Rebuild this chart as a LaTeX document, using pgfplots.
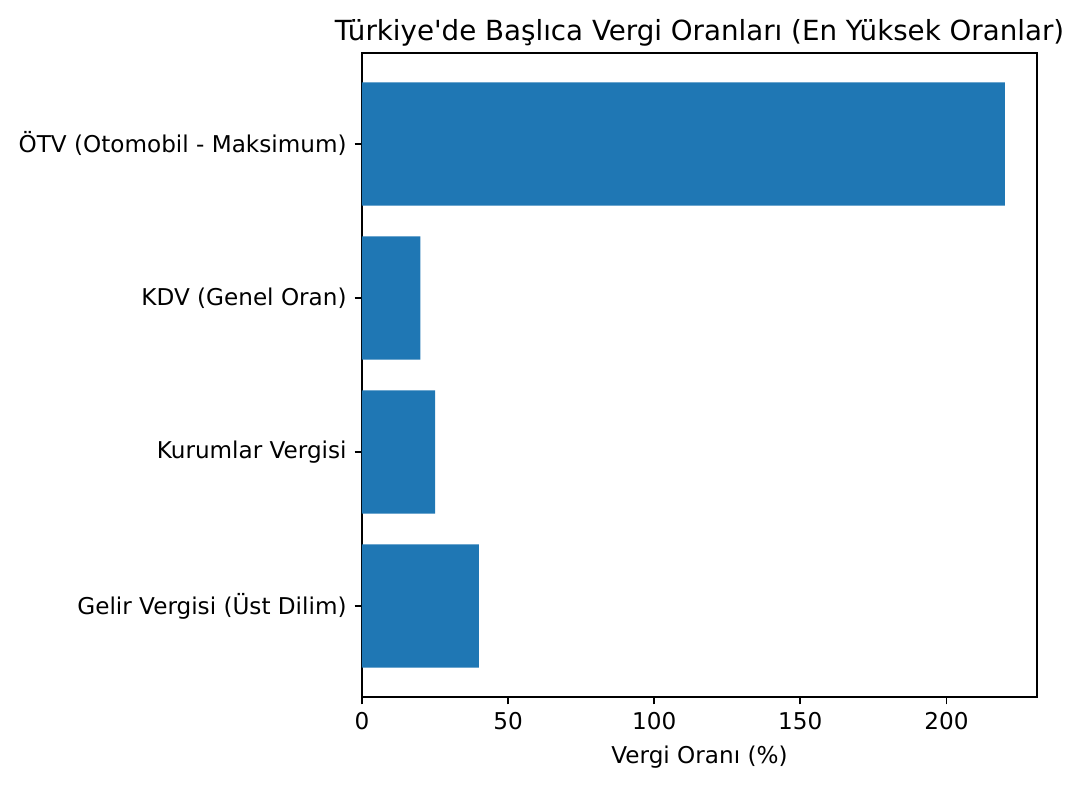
\documentclass[border=0pt]{standalone}
\usepackage{fontspec}
\setmainfont{DejaVu Sans}[Ligatures=TeXOff]
\usepackage{pgfplots}
\pgfplotsset{compat=1.18}

\definecolor{mplblue}{HTML}{1F77B4}

\begin{document}
\fontsize{11.1}{13}\selectfont
\begin{tikzpicture}
\begin{axis}[
    name=ax,
    at={(0,0)}, anchor=south west,
    scale only axis,
    width=324pt, height=309.12pt,
    xbar,
    bar width=0.8,
    xmin=0, xmax=231,
    ymin=-0.59, ymax=3.59,
    ytick={0,1,2,3},
    yticklabels={Gelir Vergisi (Üst Dilim),Kurumlar Vergisi,KDV (Genel Oran),ÖTV (Otomobil - Maksimum)},
    xtick={0,50,100,150,200},
    xtick pos=bottom, ytick pos=left,
    tick align=outside,
    major tick length=3.5pt,
    every tick/.style={black, line width=0.8pt},
    axis line style={line width=0.8pt},
    /pgf/number format/assume math mode=true,
    tick label style={font=\fontsize{11.1}{13}\selectfont},
    xlabel={Vergi Oranı (\%)},
    xlabel style={font=\fontsize{11.1}{13}\selectfont},
    title={Türkiye'de Başlıca Vergi Oranları (En Yüksek Oranlar)},
    every axis title/.style={at={(0.5,1)}, anchor=base, yshift=5.8pt,
        inner sep=0pt, font=\fontsize{13.3}{15}\selectfont},
]
\addplot[fill=mplblue, draw=none] coordinates {
    (40,0) (25,1) (20,2) (220,3)
};
\end{axis}
\pgfresetboundingbox
\path (-173.76pt,-42.72pt) rectangle (344.64pt,334.56pt);
\end{tikzpicture}
\end{document}
